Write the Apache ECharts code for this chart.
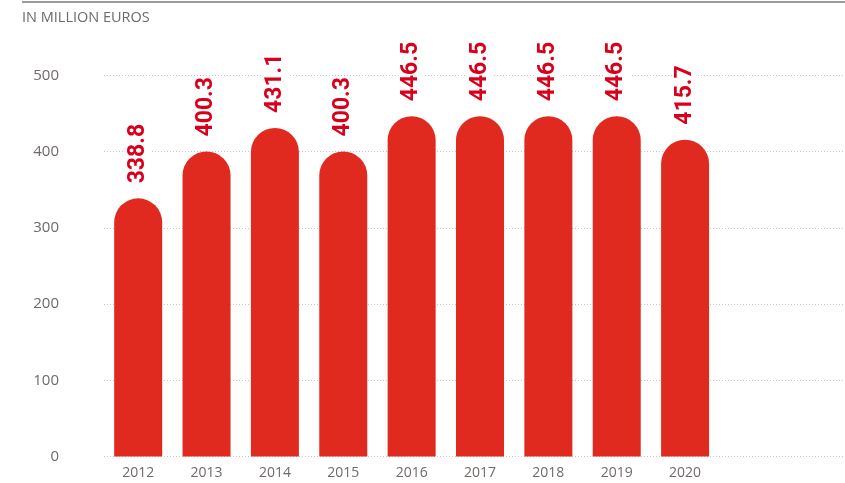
<!DOCTYPE html>
<html lang="en">
<head>
	<meta charset="UTF-8">
	<title>Echarts</title>
	<script src="https://cdn.jsdelivr.net/npm/echarts@6/dist/echarts.min.js"></script>
	<style>
		html, body { margin: 0; padding: 0; background: #fff; }
	</style>
</head>
<body>
	<div id="main" style="width: 845px; height: 483px;"></div>
	<script type="text/javascript">
	var years = ['2012', '2013', '2014', '2015', '2016', '2017', '2018', '2019', '2020'];
	var values = [338.8, 400.3, 431.1, 400.3, 446.5, 446.5, 446.5, 446.5, 415.7];
	var yTicks = [0, 100, 200, 300, 400, 500];

	var chart = echarts.init(document.getElementById('main'));
	var option = {
		animation: false,
		graphic: [
			{
				type: 'line',
				shape: { x1: 22, y1: 2, x2: 845, y2: 2 },
				style: { stroke: '#7a7a7a', lineWidth: 1.5 }
			},
			{
				type: 'text',
				left: 22,
				top: 10,
				style: {
					text: 'IN MILLION EUROS',
					fill: '#6b6b6b',
					font: '14.5px "Open Sans", sans-serif'
				}
			}
		],
		grid: {
			left: 104,
			width: 752,
			top: 75.5,
			bottom: 26.5,
			outerBoundsMode: 'none',
			containLabel: false
		},
		xAxis: {
			type: 'category',
			data: years,
			max: 10,
			axisLine: { show: false },
			axisTick: { show: false },
			axisLabel: {
				color: '#6f6a67',
				fontSize: 14,
				fontFamily: 'Open Sans',
				margin: 10
			}
		},
		yAxis: {
			type: 'value',
			min: yTicks[0],
			max: yTicks[yTicks.length - 1],
			interval: 100,
			axisLine: { show: false },
			axisTick: { show: false },
			axisLabel: {
				color: '#6f6a67',
				fontSize: 15,
				fontFamily: 'Open Sans',
				margin: 45
			},
			splitLine: {
				lineStyle: { color: '#c4c4c4', type: [1, 2], width: 1 }
			}
		},
		series: [
			{
				type: 'bar',
				data: values,
				barWidth: 48,
				itemStyle: {
					color: '#e0291f',
					borderRadius: [24, 24, 0, 0]
				},
				label: {
					show: true,
					position: 'top',
					rotate: 90,
					align: 'left',
					verticalAlign: 'middle',
					distance: 15,
					color: '#d9001b',
					fontSize: 23,
					fontWeight: 'bold',
					fontFamily: 'Roboto',
					backgroundColor: '#fff',
					padding: [3, 0, 0, 0],
					formatter: function (p) { return p.value.toFixed(1); }
				}
			}
		]
	};
	chart.setOption(option);
	</script>
</body>
</html>
